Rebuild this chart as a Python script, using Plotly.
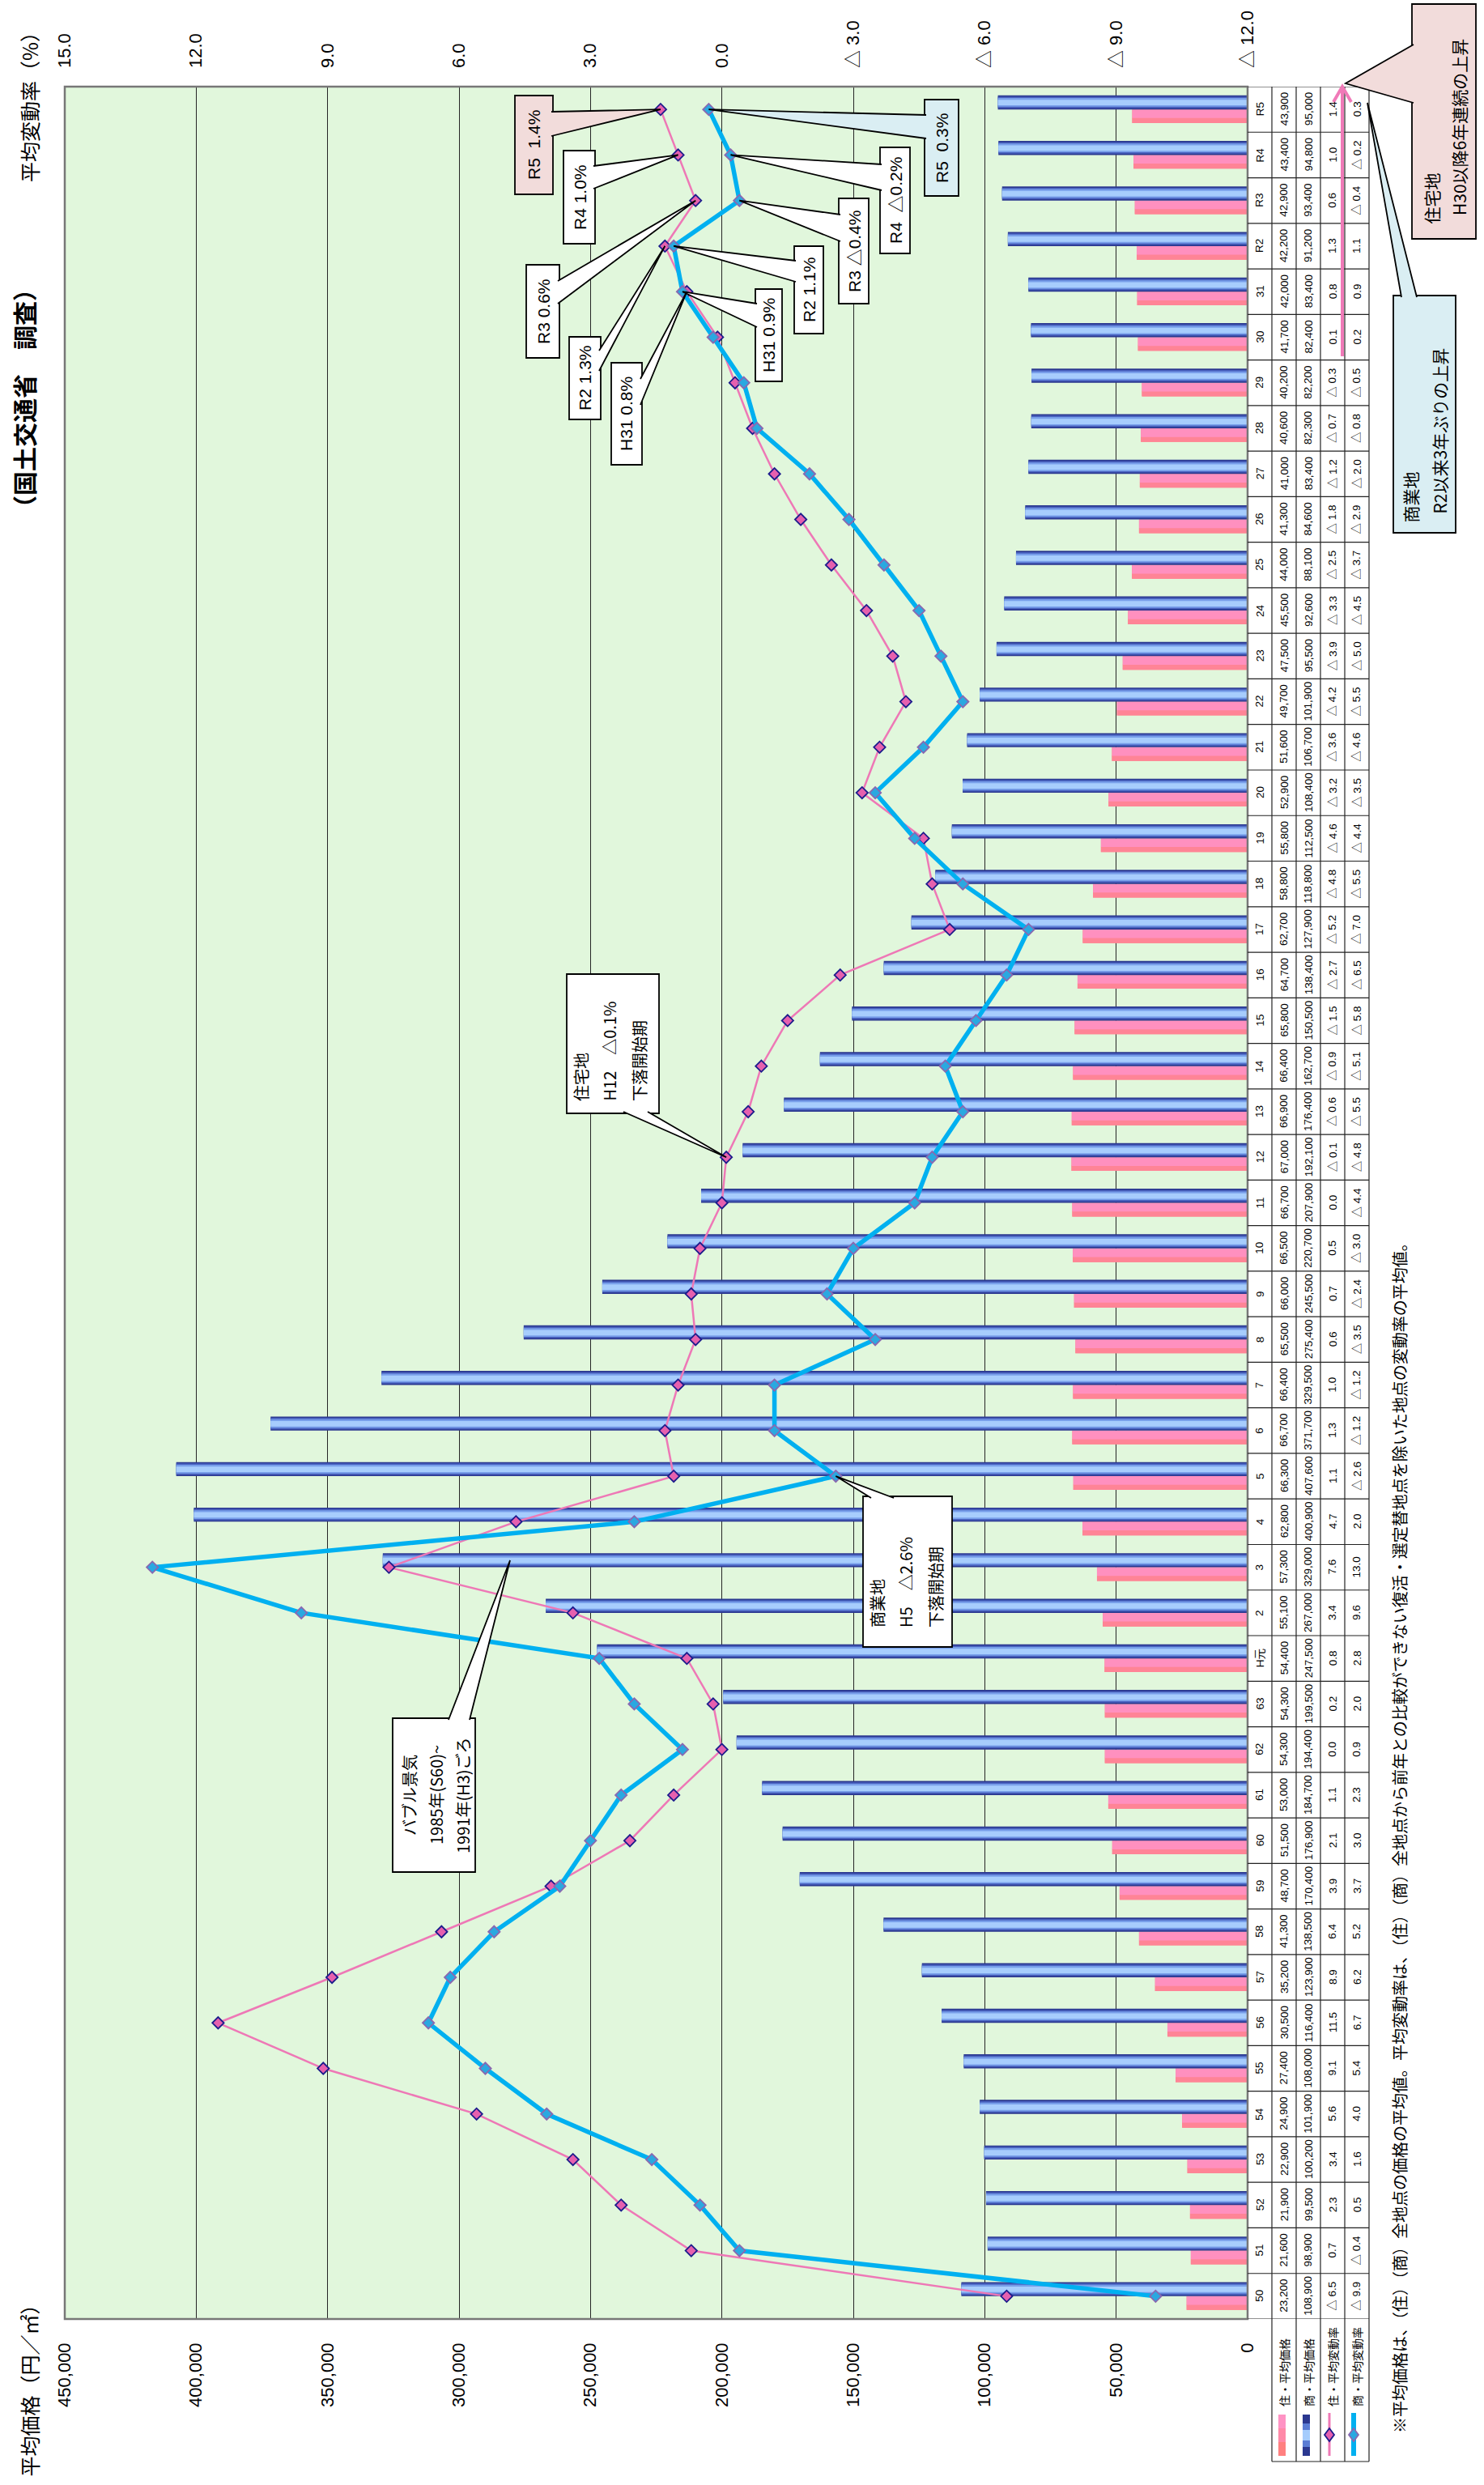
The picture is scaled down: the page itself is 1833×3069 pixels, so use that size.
import plotly.graph_objects as go

# ---------------- data ----------------
years = ["50","51","52","53","54","55","56","57","58","59","60","61","62","63","H元",
         "2","3","4","5","6","7","8","9","10","11","12","13","14","15","16","17","18",
         "19","20","21","22","23","24","25","26","27","28","29","30","31","R2","R3","R4","R5"]
res_price = [23200,21600,21900,22900,24900,27400,30500,35200,41300,48700,
             51500,53000,54300,54300,54400,55100,57300,62800,66300,66700,
             66400,65500,66000,66500,66700,67000,66900,66400,65800,64700,
             62700,58800,55800,52900,51600,49700,47500,45500,44000,41300,
             41000,40600,40200,41700,42000,42200,42900,43400,43900]
com_price = [108900,98900,99500,100200,101900,108000,116400,123900,138500,170400,
             176900,184700,194400,199500,247500,267000,329000,400900,407600,371700,
             329500,275400,245500,220700,207900,192100,176400,162700,150500,138400,
             127900,118800,112500,108400,106700,101900,95500,92600,88100,84600,
             83400,82300,82200,82400,83400,91200,93400,94800,95000]
res_rate = [-6.5,0.7,2.3,3.4,5.6,9.1,11.5,8.9,6.4,3.9,
            2.1,1.1,0.0,0.2,0.8,3.4,7.6,4.7,1.1,1.3,
            1.0,0.6,0.7,0.5,0.0,-0.1,-0.6,-0.9,-1.5,-2.7,
            -5.2,-4.8,-4.6,-3.2,-3.6,-4.2,-3.9,-3.3,-2.5,-1.8,
            -1.2,-0.7,-0.3,0.1,0.8,1.3,0.6,1.0,1.4]
com_rate = [-9.9,-0.4,0.5,1.6,4.0,5.4,6.7,6.2,5.2,3.7,
            3.0,2.3,0.9,2.0,2.8,9.6,13.0,2.0,-2.6,-1.2,
            -1.2,-3.5,-2.4,-3.0,-4.4,-4.8,-5.5,-5.1,-5.8,-6.5,
            -7.0,-5.5,-4.4,-3.5,-4.6,-5.5,-5.0,-4.5,-3.7,-2.9,
            -2.0,-0.8,-0.5,0.2,0.9,1.1,-0.4,-0.2,0.3]
price_ticks = [0,50000,100000,150000,200000,250000,300000,350000,400000,450000]
rate_ticks = [15,12,9,6,3,0,-3,-6,-9,-12]
legend_labels = ["住・平均価格","商・平均価格","住・平均変動率","商・平均変動率"]

# ---------------- geometry helpers ----------------
W, H = 1833, 3069
L, R, T, B = 80, 1541, 107, 2864
N = len(years)
idxs = list(range(N))

def pxp(x):  # pixel x -> paper
    return (x - L) / (R - L)
def pyp(y):  # pixel y -> paper
    return (B - y) / (B - T)
def pct(x):  # pixel x -> percent axis
    return 15 - (x - L) / (R - L) * 27
def idy(y):  # pixel y -> category index
    return (B - y) / (B - T) * N - 0.5

def fmt_rate(v):
    return ("△ %.1f" % abs(v)) if v < 0 else ("%.1f" % v)

JP = "Noto Sans CJK JP"
LAT = "Liberation Sans, Noto Sans CJK JP"

fig = go.Figure()

# ---------------- bars (gradient via overlaid layers) ----------------
pink_layers = [(-0.30, 0.30, "#ff8282"), (-0.30, 0.12, "#ff8496"), (-0.19, 0.19, "#ff90bf")]
blue_layers = [(0.0, 0.31, "#2b3890"), (0.03, 0.25, "#4a63c0"), (0.06, 0.19, "#789fea"),
               (0.09, 0.12, "#a7cdfd")]
for off, wd, col in pink_layers:
    fig.add_trace(go.Bar(x=res_price, y=idxs, orientation="h", offset=off, width=wd,
                         marker=dict(color=col, line=dict(width=0)),
                         xaxis="x", yaxis="y", hoverinfo="skip", showlegend=False))
for off, wd, col in blue_layers:
    fig.add_trace(go.Bar(x=com_price, y=idxs, orientation="h", offset=off, width=wd,
                         marker=dict(color=col, line=dict(width=0)),
                         xaxis="x", yaxis="y", hoverinfo="skip", showlegend=False))

# ---------------- rate lines ----------------
fig.add_trace(go.Scatter(x=res_rate, y=idxs, mode="lines+markers", xaxis="x2", yaxis="y",
                         line=dict(color="#ee78b6", width=2.5),
                         marker=dict(symbol="diamond", size=11, color="#e660ae",
                                     line=dict(color="#1c1c8c", width=1.8)),
                         hoverinfo="skip", showlegend=False))
fig.add_trace(go.Scatter(x=com_rate, y=idxs, mode="lines+markers", xaxis="x2", yaxis="y",
                         line=dict(color="#00b0f0", width=5.5),
                         marker=dict(symbol="diamond", size=11, color="#2aa8e0",
                                     line=dict(color="#8a68b0", width=1.8)),
                         hoverinfo="skip", showlegend=False))

shapes = []
ann = []

# plot border
shapes.append(dict(type="rect", xref="paper", yref="paper", x0=0, x1=1, y0=0, y1=1,
                   line=dict(color="#777777", width=2.5), fillcolor="rgba(0,0,0,0)", layer="above"))

# ---------------- table ----------------
col_edges = [1541, 1571, 1601, 1631, 1661, 1691]
col_centers = [(col_edges[i] + col_edges[i + 1]) / 2 for i in range(5)]
for i in range(N + 1):
    shapes.append(dict(type="line", xref="paper", yref="y", x0=pxp(1541), x1=pxp(1691),
                       y0=i - 0.5, y1=i - 0.5, line=dict(color="#222222", width=1.2), layer="above"))
for xe in col_edges[1:]:
    shapes.append(dict(type="line", xref="paper", yref="paper", x0=pxp(xe), x1=pxp(xe),
                       y0=pyp(107), y1=pyp(3040), line=dict(color="#222222", width=1.2), layer="above"))
shapes.append(dict(type="line", xref="paper", yref="paper", x0=pxp(1571), x1=pxp(1691),
                   y0=pyp(3040), y1=pyp(3040), line=dict(color="#222222", width=1.2), layer="above"))

for i in range(N):
    cells = [years[i], f"{res_price[i]:,}", f"{com_price[i]:,}", fmt_rate(res_rate[i]), fmt_rate(com_rate[i])]
    for c, txt in enumerate(cells):
        ann.append(dict(x=pxp(col_centers[c]), y=i, xref="paper", yref="y", text=txt,
                        textangle=-90, showarrow=False, xanchor="center", yanchor="middle",
                        font=dict(family=LAT, size=13.5, color="#000")))

# legend cells
for c, lab in enumerate(legend_labels):
    ann.append(dict(x=pxp(col_centers[c + 1]), y=pyp(2974), xref="paper", yref="paper", text=lab,
                    textangle=-90, showarrow=False, xanchor="center", yanchor="bottom",
                    font=dict(family=JP, size=14, color="#000")))

def prect(x0, y0, x1, y1, col):
    shapes.append(dict(type="rect", xref="paper", yref="paper", x0=pxp(x0), x1=pxp(x1),
                       y0=pyp(y1), y1=pyp(y0), fillcolor=col, line=dict(width=0), layer="above"))

for (a, b, col) in [(2982, 2999, "#ff93c4"), (2999, 3016, "#ff89a8"), (3016, 3033, "#ff8080")]:
    prect(1579, a, 1588, b, col)
for (a, b, col) in [(2982, 2993, "#2b3890"), (2993, 3001, "#5a7cd4"), (3001, 3014, "#a5ccfc"),
                    (3014, 3022, "#5a7cd4"), (3022, 3033, "#2b3890")]:
    prect(1609, a, 1618, b, col)

def ppath(pts, close=False):
    s = "M " + " L ".join(f"{pxp(x)},{pyp(y)}" for x, y in pts)
    return s + (" Z" if close else "")

shapes.append(dict(type="path", xref="paper", yref="paper", path=ppath([(1642, 2980), (1642, 3033)]),
                   line=dict(color="#ee78b6", width=3), layer="above"))
shapes.append(dict(type="path", xref="paper", yref="paper",
                   path=ppath([(1642, 2999), (1648, 3007), (1642, 3015), (1636, 3007)], True),
                   fillcolor="#e660ae", line=dict(color="#1c1c8c", width=1.8), layer="above"))
shapes.append(dict(type="path", xref="paper", yref="paper", path=ppath([(1672, 2980), (1672, 3033)]),
                   line=dict(color="#00b0f0", width=6), layer="above"))
shapes.append(dict(type="path", xref="paper", yref="paper",
                   path=ppath([(1672, 2999), (1678, 3007), (1672, 3015), (1666, 3007)], True),
                   fillcolor="#2aa8e0", line=dict(color="#8a68b0", width=1.8), layer="above"))

# pink arrow over the table
shapes.append(dict(type="path", xref="paper", yref="paper", path=ppath([(1658, 440), (1658, 108)]),
                   line=dict(color="#f07ab8", width=4), layer="above"))
shapes.append(dict(type="path", xref="paper", yref="paper",
                   path=ppath([(1647, 126), (1658, 107), (1669, 126)]),
                   line=dict(color="#f07ab8", width=4), layer="above"))

# ---------------- callouts ----------------
def callout(box, base, tip, fill, tip_is_data=True):
    x0, y0, x1, y1 = box
    shapes.append(dict(type="rect", xref="x2", yref="y", x0=pct(x0), x1=pct(x1), y0=idy(y1), y1=idy(y0),
                       fillcolor=fill, line=dict(color="#000", width=1.8), layer="above"))
    (bx1, by1), (bx2, by2) = base
    # push base slightly inside the box
    def inside(bx, by):
        if abs(bx - x0) < 0.5: bx += 2
        elif abs(bx - x1) < 0.5: bx -= 2
        if abs(by - y0) < 0.5: by += 2
        elif abs(by - y1) < 0.5: by -= 2
        return bx, by
    bx1, by1 = inside(bx1, by1)
    bx2, by2 = inside(bx2, by2)
    if tip_is_data:
        tx, ty = tip
    else:
        tx, ty = pct(tip[0]), idy(tip[1])
    path = f"M {pct(bx1)},{idy(by1)} L {tx},{ty} L {pct(bx2)},{idy(by2)}"
    shapes.append(dict(type="path", xref="x2", yref="y", path=path, fillcolor=fill,
                       line=dict(color="#000", width=1.8), layer="above"))

def rtext(x, y, txt, size=21, anchor="middle", family=LAT, bold=False):
    t = f"<b>{txt}</b>" if bold else txt
    ann.append(dict(x=pxp(x), y=pyp(y), xref="paper", yref="paper", text=t, textangle=-90,
                    showarrow=False, xanchor="center", yanchor=anchor,
                    font=dict(family=family, size=size, color="#000")))

PINKBOX, BLUEBOX, WHITE = "#f2dcdb", "#daeef3", "#ffffff"
n = N - 1
# residential small callouts (left of the line)
callout((636, 118, 683, 240), [(683, 138), (683, 168)], (res_rate[n], n), PINKBOX)
rtext(660, 179, "R5\u00a0\u00a01.4%")
callout((696, 186, 735, 301), [(735, 205), (735, 233)], (res_rate[n - 1], n - 1), WHITE)
rtext(716, 244, "R4 1.0%")
callout((650, 327, 691, 442), [(691, 347), (691, 375)], (res_rate[n - 2], n - 2), WHITE)
rtext(671, 385, "R3 0.6%")
callout((703, 416, 742, 518), [(742, 433), (742, 458)], (res_rate[n - 3], n - 3), WHITE)
rtext(723, 467, "R2 1.3%")
callout((755, 448, 793, 574), [(793, 468), (793, 500)], (res_rate[n - 4], n - 4), WHITE)
rtext(774, 511, "H31 0.8%")
# commercial small callouts (right of the line)
callout((1142, 123, 1184, 242), [(1142, 142), (1142, 171)], (com_rate[n], n), BLUEBOX)
rtext(1163, 183, "R5\u00a0\u00a00.3%")
callout((1087, 182, 1124, 313), [(1087, 203), (1087, 235)], (com_rate[n - 1], n - 1), WHITE)
rtext(1106, 248, "R4\u00a0\u00a0△0.2%")
callout((1036, 245, 1073, 375), [(1036, 265), (1036, 298)], (com_rate[n - 2], n - 2), WHITE)
rtext(1055, 310, "R3 △0.4%")
callout((981, 304, 1017, 412), [(981, 322), (981, 348)], (com_rate[n - 3], n - 3), WHITE)
rtext(999, 358, "R2 1.1%")
callout((933, 357, 966, 471), [(933, 375), (933, 404)], (com_rate[n - 4], n - 4), WHITE)
rtext(950, 414, "H31 0.9%")

# big callouts
i12 = years.index("12")
callout((700, 1203, 814, 1375), [(770, 1375), (800, 1375)], (res_rate[i12], i12), WHITE)
rtext(717, 1362, "住宅地", 20, "bottom", JP)
rtext(752, 1362, "H12\u3000△0.1%", 20, "bottom", JP)
rtext(789, 1362, "下落開始期", 20, "bottom", JP)

i5 = years.index("5")
callout((1066, 1848, 1176, 2034), [(1076, 1848), (1104, 1848)], (com_rate[i5], i5), WHITE)
rtext(1083, 2012, "商業地", 20, "bottom", JP)
rtext(1118, 2012, "H5\u3000△2.6%", 20, "bottom", JP)
rtext(1155, 2012, "下落開始期", 20, "bottom", JP)

callout((485, 2122, 587, 2312), [(554, 2122), (580, 2122)], (630, 1927), WHITE, tip_is_data=False)
rtext(505, 2217, "バブル景気", 20, "middle", JP)
rtext(538, 2217, "1985年(S60)~", 20, "middle", JP)
rtext(571, 2217, "1991年(H3)ごろ", 20, "middle", JP)

# boxes to the right of the table
def pcallout(box, base, tip, fill):
    x0, y0, x1, y1 = box
    shapes.append(dict(type="rect", xref="paper", yref="paper", x0=pxp(x0), x1=pxp(x1),
                       y0=pyp(y1), y1=pyp(y0), fillcolor=fill, line=dict(color="#000", width=1.8),
                       layer="above"))
    (bx1, by1), (bx2, by2) = base
    shapes.append(dict(type="path", xref="paper", yref="paper",
                       path=ppath([(bx1, by1), tip, (bx2, by2)]), fillcolor=fill,
                       line=dict(color="#000", width=1.8), layer="above"))

pcallout((1744, 5, 1823, 295), [(1746, 55), (1746, 127)], (1662, 103), PINKBOX)
rtext(1768, 279, "住宅地", 21, "bottom", JP)
rtext(1802, 268, "H30以降6年連続の上昇", 21, "bottom", JP)
pcallout((1721, 365, 1798, 658), [(1731, 367), (1750, 367)], (1689, 127), BLUEBOX)
rtext(1741, 648, "商業地", 21, "bottom", JP)
rtext(1777, 637, "R2以来3年ぶりの上昇", 21, "bottom", JP)

# titles and notes
rtext(36, 25, "平均変動率（%）", 25, "top", JP)
rtext(35, 2832, "平均価格（円／㎡）", 25, "top", JP)
rtext(29, 340, "（国土交通省　調査）", 30, "top", JP, bold=True)
rtext(1728, 3007,
      "※平均価格は、（住）（商）全地点の価格の平均値。平均変動率は、（住）（商）全地点から前年との比較ができない復活・選定替地点を除いた地点の変動率の平均値。",
      20, "bottom", JP)
ann.append(dict(x=pxp(848), y=pyp(3060), xref="paper", yref="paper", text="-20-", showarrow=False,
                xanchor="center", yanchor="top", font=dict(family=JP, size=20, color="#000")))

# ---------------- layout ----------------
fig.update_layout(
    template="none",
    width=W, height=H,
    margin=dict(l=L, r=W - R, t=T, b=H - B, pad=0),
    paper_bgcolor="#ffffff",
    plot_bgcolor="#e1f7dc",
    barmode="overlay",
    font=dict(family=LAT, color="#000"),
    showlegend=False,
    xaxis=dict(range=[450000, 0], tickvals=price_ticks,
               ticktext=[f"{v:,}" for v in price_ticks], tickangle=-90,
               showgrid=True, gridcolor="#262626", gridwidth=1, zeroline=False,
               showline=False, ticks="", tickfont=dict(size=22, family=LAT),
               ticklabelstandoff=24, automargin=False, fixedrange=True),
    xaxis2=dict(range=[15, -12], overlaying="x", side="top", anchor="y",
                tickvals=rate_ticks, ticktext=[fmt_rate(v) for v in rate_ticks], tickangle=-90,
                showgrid=False, zeroline=False, showline=False, ticks="",
                tickfont=dict(size=22, family=LAT), ticklabelstandoff=22,
                automargin=False, fixedrange=True),
    yaxis=dict(range=[-0.5, N - 0.5], showticklabels=False, showgrid=False, zeroline=False,
               showline=False, ticks="", automargin=False, fixedrange=True),
    shapes=shapes,
    annotations=ann,
)

fig.write_html("out.html")
